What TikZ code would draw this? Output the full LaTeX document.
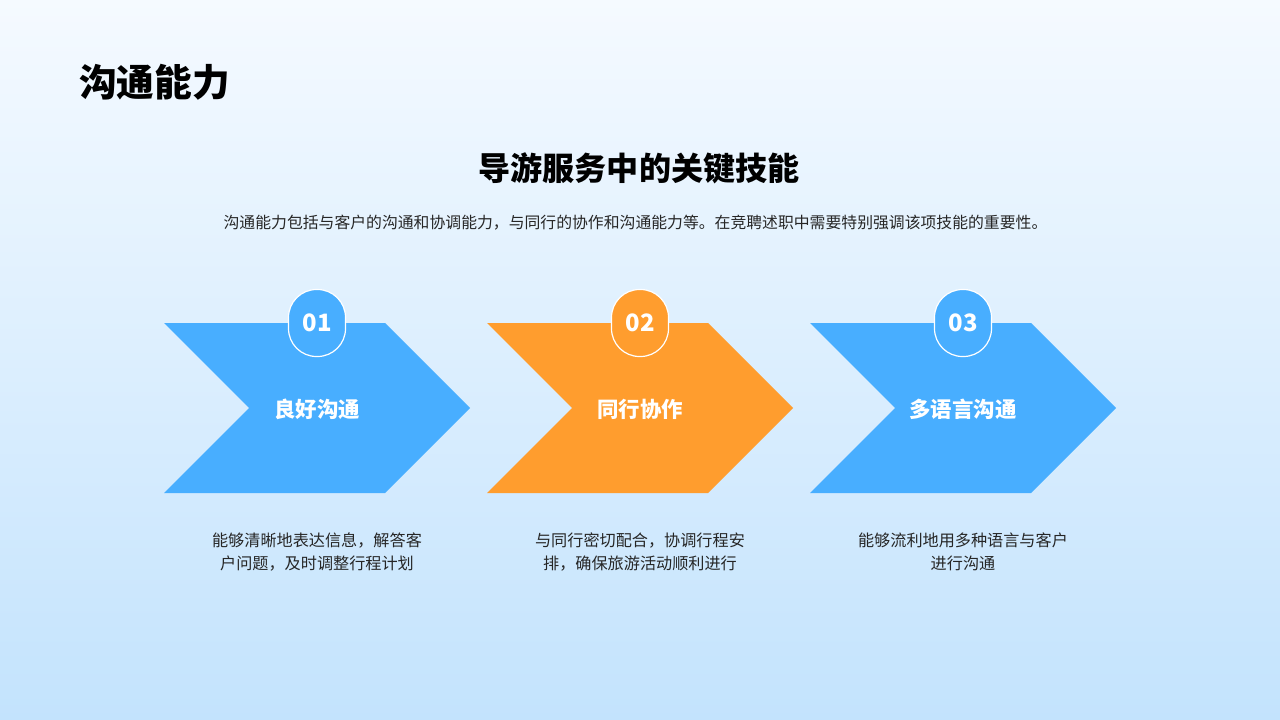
\documentclass[tikz,border=0pt]{standalone}
\usepackage{fontspec}
\newfontfamily\cjk{Noto Sans CJK SC}
\setmainfont{Noto Sans CJK SC}
\definecolor{bgtop}{HTML}{F5FAFF}
\definecolor{bgbot}{HTML}{C3E3FD}
\definecolor{cblue}{HTML}{48AEFF}
\definecolor{corange}{HTML}{FF9D2E}
\definecolor{txt}{HTML}{262626}
\tikzset{
  badge/.style={draw=white, line width=1.2bp, minimum width=57bp, minimum height=67bp, rounded corners=28bp, inner sep=0pt, text=white, font=\cjk\bfseries\fontsize{24}{24}\selectfont},
  chevlabel/.style={text=white, font=\cjk\bfseries\fontsize{21.5}{21.5}\selectfont, inner sep=0pt},
  desc/.style={text=txt, align=center, font=\cjk\fontsize{16.2}{23}\selectfont, inner sep=0pt},
}
\begin{document}
\begin{tikzpicture}[x=1bp,y=-1bp]
\shade[top color=bgtop, bottom color=bgbot] (0,0) rectangle (1280,720);
\useasboundingbox (0,0) rectangle (1280,720);
\node[anchor=west, inner sep=0pt, font=\cjk\bfseries\fontsize{37.8}{37.8}\selectfont] (title) at (79,82) {沟通能力};
\node[inner sep=0pt, font=\cjk\bfseries\fontsize{32.2}{32.2}\selectfont] (sub) at (639,168) {导游服务中的关键技能};
\node[inner sep=0pt, text=txt, font=\cjk\fontsize{15.9}{16}\selectfont] (intro) at (635.5,223) {沟通能力包括与客户的沟通和协调能力，与同行的协作和沟通能力等。在竞聘述职中需要特别强调该项技能的重要性。};
\foreach \L/\c/\n/\lab/\da/\db [count=\i] in {
  164/cblue/01/良好沟通/能够清晰地表达信息，解答客/户问题，及时调整行程计划,
  487/corange/02/同行协作/与同行密切配合，协调行程安/排，确保旅游活动顺利进行,
  810/cblue/03/多语言沟通/能够流利地用多种语言与客户/进行沟通}{
  \fill[\c] (\L,323) -- ++(221,0) -- ++(85,85) -- ++(-85,85) -- ++(-221,0) -- ++(85,-85) -- cycle;
  \node[chevlabel] (lab\i) at (\L+153,409) {\lab};
  \node[badge, fill=\c] (badge\i) at (\L+153,323) {\n};
  \node[desc] (desc\i) at (\L+153,552) {\da\\\db};
}
\end{tikzpicture}
\end{document}
